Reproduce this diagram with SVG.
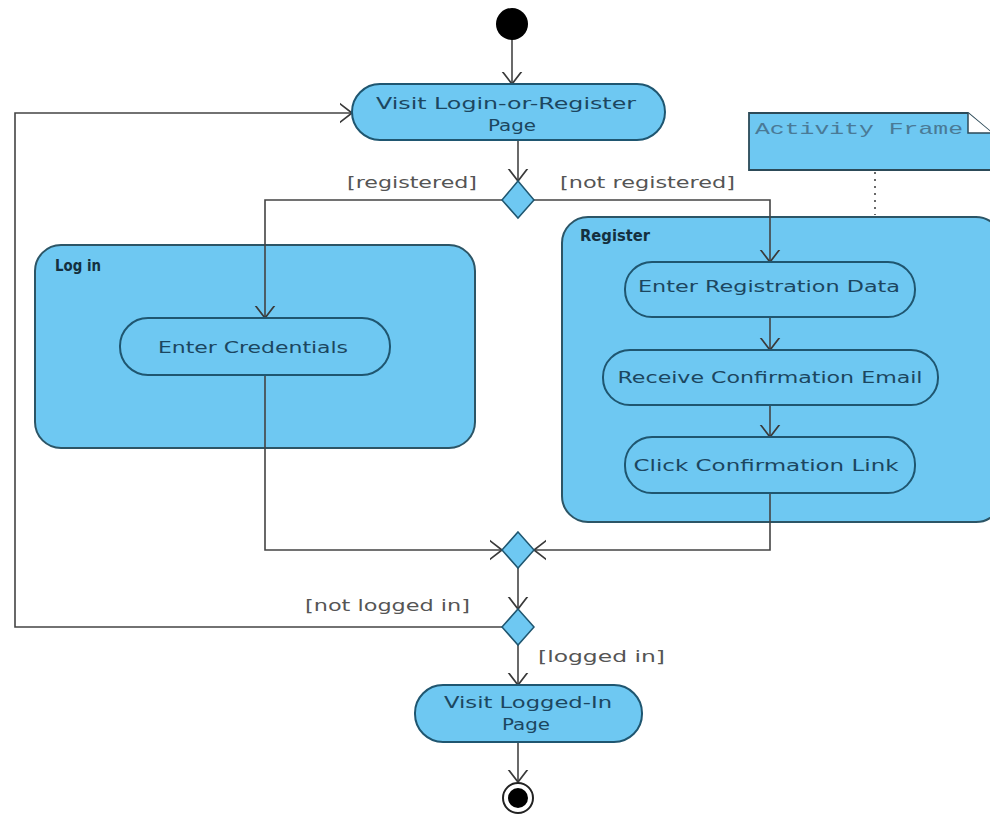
<svg xmlns="http://www.w3.org/2000/svg" width="990" height="814" viewBox="0 0 990 814">
  <defs>
    <marker id="open" viewBox="0 0 24 24" refX="12" refY="12" markerWidth="24" markerHeight="24" markerUnits="userSpaceOnUse" orient="auto">
      <path d="M-1,2 L12,12 L-1,22" fill="none" stroke="#3a3a3a" stroke-width="1.7"/>
    </marker>
    <style>
      .frame { fill: #6ec8f2; stroke: #2c5566; stroke-width: 2; }
      .act { fill: #6ec8f2; stroke: #1f5670; stroke-width: 2; }
      .dia { fill: #6ec8f2; stroke: #1f5670; stroke-width: 1.5; }
      .lbl { font-family: "DejaVu Sans", Verdana, sans-serif; font-size: 16px; fill: #1c4660; text-anchor: middle; }
      .guard { font-family: "DejaVu Sans", Verdana, sans-serif; font-size: 16px; fill: #555; }
      .title { font-family: "DejaVu Sans", Verdana, sans-serif; font-size: 15px; font-weight: bold; fill: #14303f; }
      .flow { fill: none; stroke: #444; stroke-width: 1.6; marker-end: url(#open); }
      .line { fill: none; stroke: #444; stroke-width: 1.6; }
    </style>
  </defs>
  <rect width="990" height="814" fill="#ffffff"/>

  <!-- activity frames -->
  <g id="login-frame">
    <rect class="frame" x="35" y="245" width="440" height="203" rx="26"/>
    <text class="title" x="55" y="271" textLength="46" lengthAdjust="spacingAndGlyphs">Log in</text>
  </g>
  <g id="register-frame">
    <rect class="frame" x="562" y="217" width="440" height="305" rx="26"/>
    <text class="title" x="580" y="241" textLength="70" lengthAdjust="spacingAndGlyphs">Register</text>
  </g>

  <!-- note -->
  <g id="note">
    <path d="M749,113 L968,113 L992,133 L992,170 L749,170 Z" fill="#6ec8f2" stroke="#2c4a58" stroke-width="1.8"/>
    <path d="M968,113 L968,133 L992,133" fill="#ffffff" stroke="#2c4a58" stroke-width="1.5"/>
    <text x="755" y="134" font-family="'Liberation Mono', 'DejaVu Sans Mono', monospace" font-size="17" fill="#4a7a96" textLength="208" lengthAdjust="spacingAndGlyphs">Activity Frame</text>
  </g>

  <!-- connectors -->
  <g id="connectors">
    <path class="flow" d="M512,39 L512,84"/>
    <path class="flow" d="M518,140 L518,181"/>
    <path class="flow" d="M502,200 L265,200 L265,318"/>
    <path class="flow" d="M534,200 L770,200 L770,262"/>
    <path class="flow" d="M265,375 L265,550 L502,550"/>
    <path class="flow" d="M770,317 L770,350"/>
    <path class="flow" d="M770,405 L770,437"/>
    <path class="flow" d="M770,493 L770,550 L534,550"/>
    <path class="flow" d="M518,568 L518,609"/>
    <path class="flow" d="M502,627 L15,627 L15,113 L352,113"/>
    <path class="flow" d="M518,645 L518,685"/>
    <path class="flow" d="M518,742 L518,782"/>
    <path class="line" d="M875,172 L875,215" stroke-dasharray="2,5" stroke="#888"/>
  </g>

  <!-- nodes -->
  <g id="start">
    <circle cx="512" cy="24" r="16" fill="#000"/>
  </g>
  <g id="visit-login">
    <rect class="act" x="352" y="84" width="313" height="56" rx="28"/>
    <text class="lbl" x="506" y="109" textLength="260" lengthAdjust="spacingAndGlyphs">Visit Login-or-Register</text>
    <text class="lbl" x="512" y="131" textLength="48" lengthAdjust="spacingAndGlyphs">Page</text>
  </g>
  <g id="decision-registered">
    <polygon class="dia" points="518,181 534,200 518,218 502,200"/>
    <text class="guard" x="347" y="188" textLength="130" lengthAdjust="spacingAndGlyphs">[registered]</text>
    <text class="guard" x="560" y="188" textLength="175" lengthAdjust="spacingAndGlyphs">[not registered]</text>
  </g>
  <g id="enter-credentials">
    <rect class="act" x="120" y="318" width="270" height="57" rx="28"/>
    <text class="lbl" x="253" y="353" textLength="190" lengthAdjust="spacingAndGlyphs">Enter Credentials</text>
  </g>
  <g id="enter-registration">
    <rect class="act" x="625" y="262" width="290" height="55" rx="27"/>
    <text class="lbl" x="769" y="292" textLength="262" lengthAdjust="spacingAndGlyphs">Enter Registration Data</text>
  </g>
  <g id="receive-email">
    <rect class="act" x="603" y="350" width="335" height="55" rx="27"/>
    <text class="lbl" x="770" y="383" textLength="305" lengthAdjust="spacingAndGlyphs">Receive Confirmation Email</text>
  </g>
  <g id="click-link">
    <rect class="act" x="625" y="437" width="290" height="56" rx="27"/>
    <text class="lbl" x="766" y="471" textLength="265" lengthAdjust="spacingAndGlyphs">Click Confirmation Link</text>
  </g>
  <g id="merge">
    <polygon class="dia" points="518,532 534,550 518,568 502,550"/>
  </g>
  <g id="decision-logged">
    <polygon class="dia" points="518,609 534,627 518,645 502,627"/>
    <text class="guard" x="305" y="611" textLength="165" lengthAdjust="spacingAndGlyphs">[not logged in]</text>
    <text class="guard" x="538" y="662" textLength="127" lengthAdjust="spacingAndGlyphs">[logged in]</text>
  </g>
  <g id="visit-logged-in">
    <rect class="act" x="415" y="685" width="227" height="57" rx="28"/>
    <text class="lbl" x="528" y="708" textLength="168" lengthAdjust="spacingAndGlyphs">Visit Logged-In</text>
    <text class="lbl" x="526" y="730" textLength="48" lengthAdjust="spacingAndGlyphs">Page</text>
  </g>
  <g id="end">
    <circle cx="518" cy="798" r="15" fill="#fff" stroke="#222" stroke-width="2"/>
    <circle cx="518" cy="798" r="10" fill="#000"/>
  </g>
</svg>
